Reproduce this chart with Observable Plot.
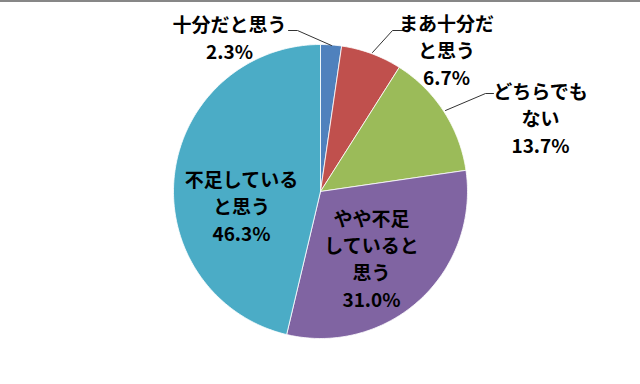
<!DOCTYPE html>
<html>
<head>
<meta charset="utf-8">
<script src="https://cdn.jsdelivr.net/npm/d3@7"></script>
<script src="https://cdn.jsdelivr.net/npm/@observablehq/plot@0.6"></script>
<style>
  html, body { margin: 0; padding: 0; background: #fff; }
  #chart svg { display: block; }
</style>
</head>
<body>
<div id="chart"></div>
<script>
// ---- data ----
const categories = ["十分だと思う", "まあ十分だと思う", "どちらでもない", "やや不足していると思う", "不足していると思う"];
const values = [2.3, 6.7, 13.7, 31.0, 46.3];
const labelTexts = ["十分だと思う", "まあ十分だ\nと思う", "どちらでも\nない", "不足している\nと思う", "やや不足\nしていると\n思う"];
const labelCats = ["十分だと思う", "まあ十分だと思う", "どちらでもない", "不足していると思う", "やや不足していると思う"];
const colors = ["#4F81BD", "#C0504D", "#9BBB59", "#8064A2", "#4BACC6"];

// ---- layout (pixel space) ----
const W = 640, H = 384;
const cx = 320, cy = 191, R = 147;
const labelPos = [[229, 36.5], [446, 48.5], [540, 117], [241, 204.5], [371, 257.5]];
const leaders = [
  [[288, 30], [297, 30], [331, 45]],
  [[403, 30], [392, 30], [372, 52]],
  [[493, 93], [485, 93], [445, 110]]
];

const arcs = d3.pie().sort(null).startAngle(0).endAngle(2 * Math.PI)(values);
const slicePts = [];
arcs.forEach((a, i) => {
  slicePts.push({cat: categories[i], x: cx, y: cy});
  const n = Math.max(4, Math.ceil((a.endAngle - a.startAngle) / (Math.PI / 180)));
  for (let k = 0; k <= n; k++) {
    const t = a.startAngle + (a.endAngle - a.startAngle) * k / n;
    slicePts.push({cat: categories[i], x: cx + R * Math.sin(t), y: cy - R * Math.cos(t)});
  }
  slicePts.push({cat: categories[i], x: cx, y: cy});
});

const labels = labelCats.map((c, i) => {
  const v = values[categories.indexOf(c)];
  return {text: labelTexts[i] + "\n" + v.toFixed(1) + "%", x: labelPos[i][0], y: labelPos[i][1]};
});

const leaderPts = leaders.flatMap((pts, i) => pts.map(([x, y]) => ({id: i, x, y})));

const chart = Plot.plot({
  width: W,
  height: H,
  margin: 0,
  x: {domain: [0, W], range: [0, W], axis: null},
  y: {domain: [0, H], range: [0, H], axis: null},
  color: {domain: categories, range: colors},
  marks: [
    Plot.ruleY([0.5], {stroke: "#111", strokeWidth: 1.2}),
    Plot.line(slicePts, {x: "x", y: "y", z: "cat", fill: "cat", stroke: "#fff", strokeWidth: 0.8, curve: "linear-closed"}),
    Plot.line(leaderPts, {x: "x", y: "y", z: "id", stroke: "#333", strokeWidth: 1}),
    Plot.text(labels, {
      x: "x", y: "y", text: "text",
      fontSize: 19, fontWeight: "bold", lineHeight: 1.42,
      fontFamily: "'Noto Sans CJK JP', 'Noto Sans', sans-serif",
      fill: "#000", textAnchor: "middle", lineAnchor: "middle"
    })
  ]
});
chart.style.fontFamily = "'Noto Sans CJK JP', sans-serif";
document.getElementById("chart").appendChild(chart);
</script>
</body>
</html>
